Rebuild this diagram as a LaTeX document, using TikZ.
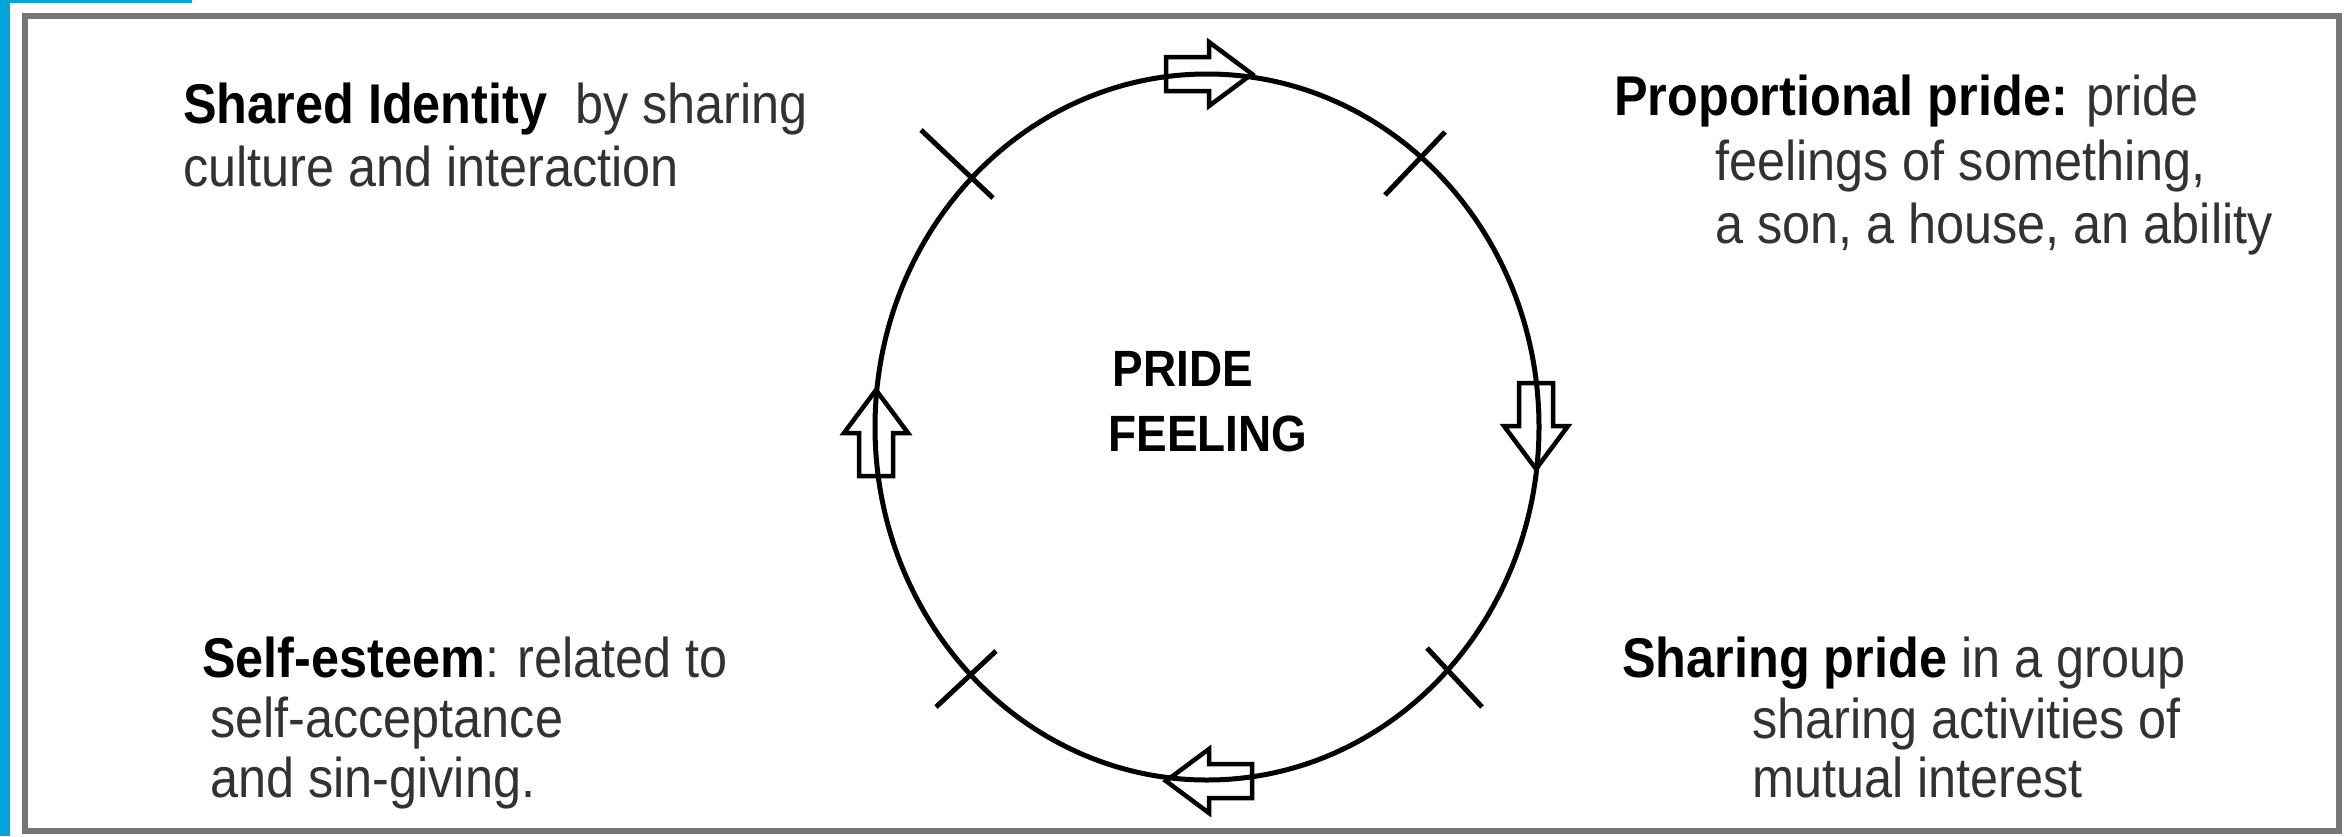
\documentclass[tikz,border=0pt]{standalone}
\usepackage{fontspec}
\setmainfont{Liberation Sans}[FakeStretch=0.9]
\usetikzlibrary{shapes.geometric}
\definecolor{bluebar}{RGB}{0,166,219}
\definecolor{txtgray}{RGB}{50,50,50}
\definecolor{framegray}{RGB}{118,118,118}
\tikzset{
  txt/.style={anchor=base west, inner sep=0pt, font=\fontsize{56}{63}\selectfont, text=txtgray},
  hd/.style={anchor=base, inner sep=0pt, font=\fontsize{51}{63}\selectfont\bfseries, text=black},
  tick/.style={line width=5pt, black},
  loop/.style={ellipse, draw=black, line width=5pt, minimum width=664pt, minimum height=706pt, inner sep=0pt},
  pics/blockarrow/.style={code={
    \draw[black, line width=4.5pt, line join=miter]
      (-43,-17) -- (0,-17) -- (0,-32) -- (43,0) -- (0,32) -- (0,17) -- (-43,17) -- cycle;
  }}
}
\newcommand{\bd}[1]{{\bfseries\color{black}#1}}
\begin{document}
\begin{tikzpicture}[x=1pt,y=-1pt]
\useasboundingbox (0,0) rectangle (2348,836);
\fill[white] (0,0) rectangle (2348,836);
% blue edges
\fill[bluebar] (0,0) rectangle (10,836);
\fill[bluebar] (0,0) rectangle (192,3);
% frame
\draw[framegray, line width=6pt] (25,16) rectangle (2339,831);
% circle
\node[loop] (cyc) at (1207,427) {};
% ticks
\draw[tick] (921,130) -- (993,198);
\draw[tick] (1385,195) -- (1445,132);
\draw[tick] (1427,648) -- (1482,707);
\draw[tick] (936,707) -- (996,651);
% arrows
\pic (atop) at (1209,74) {blockarrow};
\pic[rotate=-90] (aright) at (1536,426) {blockarrow};
\pic[rotate=180] (abot) at (1209,781) {blockarrow};
\pic[rotate=90] (aleft) at (876,433) {blockarrow};
% centre text
\node[hd] (pride) at (1183,386) {PRIDE};
\node[hd] (feel) at (1208,451) {FEELING};
% top left
\node[txt] (tl1) at (183,123) {\bd{Shared Identity}\ \ by sharing};
\node[txt] (tl2) at (183,186) {culture and interaction};
% top right
\node[txt] (tr1) at (1614,115) {\bd{Proportional pride:} pride};
\node[txt] (tr2) at (1715,180) {feelings of something,};
\node[txt] (tr3) at (1715,243) {a son, a house, an ability};
% bottom left
\node[txt] (bl1) at (202,677) {\bd{Self-esteem}: related to};
\node[txt] (bl2) at (210,737) {self-acceptance};
\node[txt] (bl3) at (210,797) {and sin-giving.};
% bottom right
\node[txt] (br1) at (1622,677) {\bd{Sharing pride} in a group};
\node[txt] (br2) at (1752,738) {sharing activities of};
\node[txt] (br3) at (1752,797) {mutual interest};
\end{tikzpicture}
\end{document}
